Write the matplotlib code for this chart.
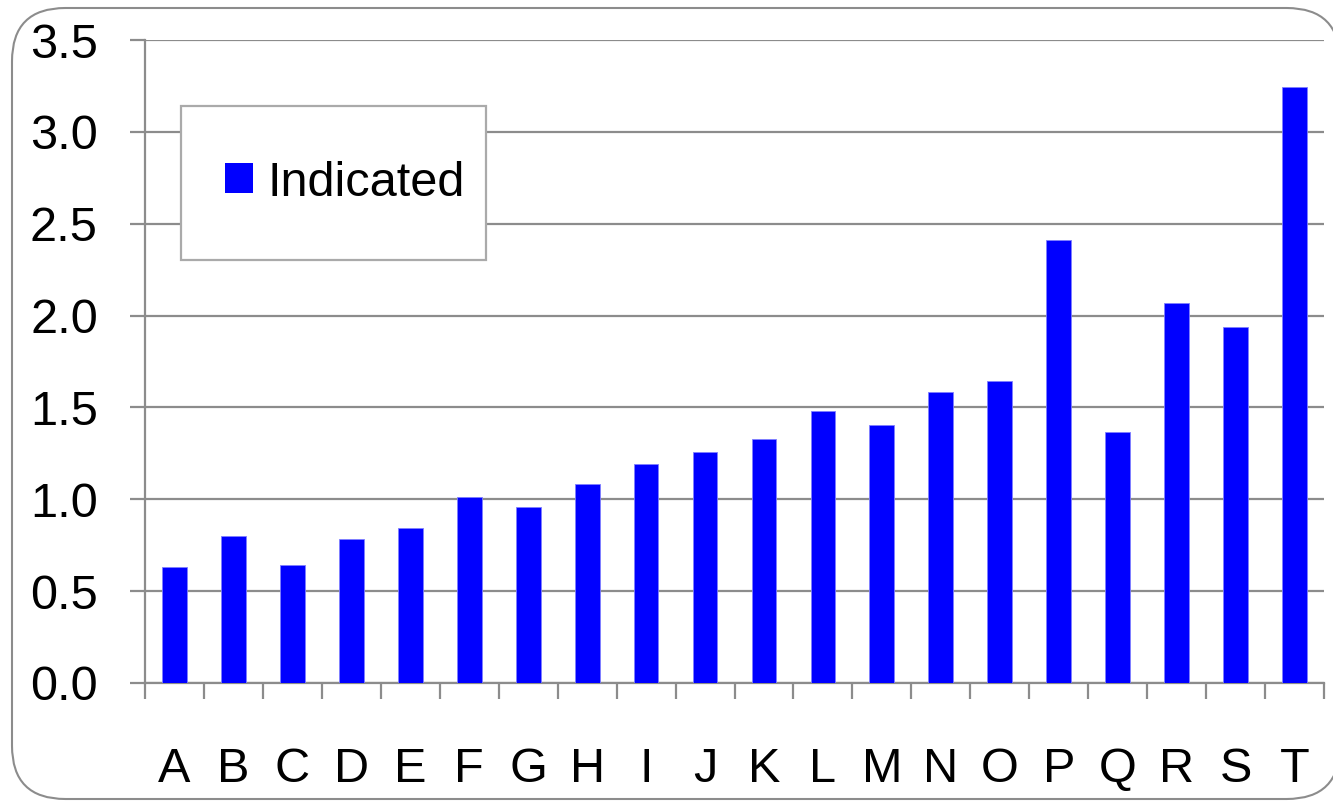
import matplotlib
matplotlib.use("Agg")
import matplotlib.pyplot as plt
from matplotlib.patches import FancyBboxPatch, Patch, Rectangle
from matplotlib.ticker import FixedLocator
import numpy as np

categories = list("ABCDEFGHIJKLMNOPQRST")
values = [0.63, 0.80, 0.64, 0.785, 0.845, 1.01, 0.96, 1.085, 1.19, 1.255,
          1.33, 1.48, 1.405, 1.585, 1.645, 2.41, 1.365, 2.07, 1.94, 3.245]
series_name = "Indicated"
yticks = [0.0, 0.5, 1.0, 1.5, 2.0, 2.5, 3.0, 3.5]

plt.rcParams['font.family'] = ['Liberation Sans', 'DejaVu Sans']
FS = 35
W, H = 1333, 807

fig = plt.figure(figsize=(W/100, H/100), dpi=100)
# outer rounded frame
frame = FancyBboxPatch((12/W, 8/H), (1340-12)/W, (799-8)/H,
                       boxstyle="round,pad=0,rounding_size=0.04",
                       transform=fig.transFigure, facecolor='white',
                       edgecolor='#8c8c8c', linewidth=1.5, mutation_aspect=W/H,
                       zorder=-5)
fig.patches.append(frame)

L, R, T, B = 145, 1324, 40, 683
ax = fig.add_axes([L/W, (H-B)/H, (R-L)/W, (B-T)/H])
ax.set_facecolor('none')
x = np.arange(len(categories))
ax.bar(x, values, width=0.42, color='#0000ff', edgecolor='#7f7fff', linewidth=0.6, zorder=3)

ax.set_xlim(-0.5, len(categories) - 0.5)
ax.set_ylim(0, 3.5)
ax.set_yticks(yticks)
ax.set_yticklabels([f"{v:.1f}" for v in yticks])
ax.yaxis.grid(True, color='#8c8c8c', linewidth=1.6, zorder=0)
ax.set_axisbelow(True)

ax.set_xticks(x)
ax.set_xticklabels(categories)
ax.xaxis.set_minor_locator(FixedLocator(np.arange(-0.5, len(categories), 1.0)))
ax.tick_params(axis='x', which='major', length=0, pad=46, labelsize=FS)
ax.tick_params(axis='x', which='minor', length=11.5, width=1.6, color='#8c8c8c')
ax.tick_params(axis='y', which='major', length=11, width=1.6, color='#8c8c8c', pad=23, labelsize=FS)

for s in ['top', 'right']:
    ax.spines[s].set_visible(False)
for s in ['left', 'bottom']:
    ax.spines[s].set_color('#8c8c8c')
    ax.spines[s].set_linewidth(1.6)

def ax_frac(px, py):
    return ((px - L) / (R - L), 1 - (py - T) / (B - T))

# legend frame box
x0, y1 = ax_frac(181, 106)
x1, y0 = ax_frac(486, 260)
ax.add_patch(Rectangle((x0, y0), x1 - x0, y1 - y0, transform=ax.transAxes,
                       facecolor='white', edgecolor='#aaaaaa', linewidth=1.6,
                       zorder=4, clip_on=False))

em = FS * 100 / 72
leg_handle = Patch(facecolor='#0000ff', edgecolor='none')
leg = ax.legend([leg_handle], [series_name], loc='center left',
                bbox_to_anchor=ax_frac(225, 183),
                bbox_transform=ax.transAxes, fontsize=FS, frameon=False,
                borderpad=0, handlelength=28/em, handleheight=28/em,
                handletextpad=14/em, borderaxespad=0)
leg.set_zorder(5)

fig.savefig("out.png", dpi=100)
